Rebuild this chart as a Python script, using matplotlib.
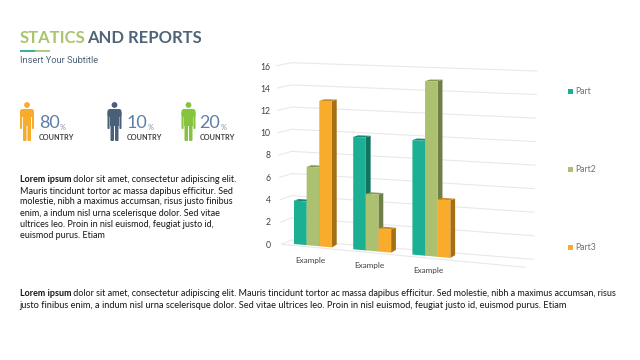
import matplotlib
matplotlib.use("Agg")
import matplotlib.pyplot as plt
from matplotlib.patches import Circle, FancyBboxPatch, Rectangle

# ---- data ----
categories = ["Example", "Example", "Example"]
series_names = ["Part", "Part2", "Part3"]
part1 = [3.9, 9.8, 9.7]
part2 = [7.0, 4.9, 14.7]
part3 = [12.9, 2.0, 4.8]
y_ticks = [0, 2, 4, 6, 8, 10, 12, 14, 16]
stat_values = [80, 10, 20]
stat_labels = ["COUNTRY", "COUNTRY", "COUNTRY"]

W, H = 640, 360
TEAL, GREEN, ORANGE = "#1BB093", "#ABC16F", "#F9AB2C"
TEAL_S, GREEN_S, ORANGE_S = "#0F7360", "#6F7F48", "#A66F14"
TEAL_T, GREEN_T, ORANGE_T = "#128A74", "#87994F", "#CC8A1E"
TXT = "#151515"
FONT = "Lato"

plt.rcParams["font.family"] = [FONT, "DejaVu Sans"]
fig = plt.figure(figsize=(6.4, 3.6), dpi=100, facecolor="white")

# overlay in pixel coordinates
pg = fig.add_axes([0, 0, 1, 1])
pg.set_xlim(0, W)
pg.set_ylim(H, 0)
pg.axis("off")

# chart axes: x in category units, y in value units
PX0, PX_STEP, PX_PER_V = 294.0, 59.2, 11.125
A_L, A_R, A_T, A_B = 272, 540, 66, 244
ax = fig.add_axes([A_L / W, 1 - A_B / H, (A_R - A_L) / W, (A_B - A_T) / H])
ax.patch.set_alpha(0)
ax.set_xlim((A_L - PX0) / PX_STEP, (A_R - PX0) / PX_STEP)
ax.set_ylim(0, 16)
ax.set_yticks(y_ticks)
ax.set_xticks([])
ax.tick_params(axis="y", length=0, pad=1, labelsize=6.2, labelcolor="#404040")
for s in ax.spines.values():
    s.set_visible(False)


def base(x):
    return -0.475 * x


def proj(x, v):
    return base(x) + v * (1 + 0.0304 * x)


# gridlines (left wall then back wall), and the floor front edge
GRID = "#E8E8E8"
for t in y_ticks:
    fr = t / 16
    yl = 244.3 - fr * (244.3 - 65.7)
    ybk = 240 - fr * (240 - 62.7)
    yr = 259.3 - fr * (259.3 - 71)
    xr = 533.3 + fr * 3.4
    pg.plot([281.7 - 5 * fr, 291.7, xr], [yl, ybk, yr], color=GRID, lw=0.8, zorder=1)
pg.plot([281.7, 525], [244.3, 267.3], color=GRID, lw=0.8, zorder=1)

# bars
BW = 0.2135
DX, DY_TOP = 4.8 / PX_STEP, 1.6 / PX_PER_V
DY_BOT = 2.8 / PX_PER_V
series = [(part1, TEAL, TEAL_S, TEAL_T), (part2, GREEN, GREEN_S, GREEN_T), (part3, ORANGE, ORANGE_S, ORANGE_T)]
for g in range(len(categories)):
    for i, (vals, c, cs, ct) in enumerate(series):
        v = vals[g]
        x0 = g + i * BW
        x1 = x0 + BW
        b0, b1, t0, t1 = base(x0), base(x1), proj(x0, v), proj(x1, v)
        ax.fill([x1, x1 + DX, x1 + DX, x1], [b1, b1 + DY_BOT, t1 + DY_TOP, t1], color=cs, lw=0, clip_on=False, zorder=3 + i)
        ax.fill([x0, x0 + DX, x1 + DX, x1], [t0, t0 + DY_TOP, t1 + DY_TOP, t1], color=ct, lw=0, clip_on=False, zorder=3 + i)
        ax.fill([x0, x1, x1, x0], [b0, b1, t1, t0], color=c, lw=0, clip_on=False, zorder=3 + i)
    xc = g + 1.5 * BW - 3 / PX_STEP
    ax.text(xc, base(xc) - 15 / PX_PER_V, categories[g], ha="center", va="center", fontsize=5.9,
            color="#404040", clip_on=False)

# legend
for name, c, y in zip(series_names, [TEAL, GREEN, ORANGE], [91, 169, 247]):
    pg.add_patch(Rectangle((568, y - 2.2), 4.8, 4.8, color=c, lw=0))
    pg.text(575, y, name, va="center", ha="left", fontsize=6.2, color="#707070")

# title
pg.text(20, 38, "STATICS", fontsize=12, color="#A9C46C", fontweight="bold", va="center", ha="left")
pg.text(87.5, 38, "AND REPORTS", fontsize=12, color="#4F6478", fontweight="bold", va="center", ha="left")
pg.plot([20, 35], [50.5, 50.5], color="#1BB093", lw=1.3, solid_capstyle="butt")
pg.plot([35, 50], [50.5, 50.5], color="#A9C46C", lw=1.3, solid_capstyle="butt")
pg.text(19.5, 60.5, "Insert Your Subtitle", fontsize=6.7, color="#4F6478", va="center", ha="left", family="Roboto")


# icons + stats
def person(cx, col):
    pg.add_patch(Circle((cx, 105), 2.9, color=col, lw=0))
    pg.add_patch(FancyBboxPatch((cx - 7, 109), 14, 8, boxstyle="round,pad=0,rounding_size=2.5", color=col, lw=0))
    pg.add_patch(Rectangle((cx - 4.2, 112), 8.4, 14, color=col, lw=0))
    pg.add_patch(FancyBboxPatch((cx - 7, 112), 2.1, 17, boxstyle="round,pad=0,rounding_size=0.9", color=col, lw=0))
    pg.add_patch(FancyBboxPatch((cx + 4.9, 112), 2.1, 17, boxstyle="round,pad=0,rounding_size=0.9", color=col, lw=0))
    pg.add_patch(FancyBboxPatch((cx - 4.0, 124), 3.5, 17, boxstyle="round,pad=0,rounding_size=1", color=col, lw=0))
    pg.add_patch(FancyBboxPatch((cx + 0.5, 124), 3.5, 17, boxstyle="round,pad=0,rounding_size=1", color=col, lw=0))


icon_x = [27, 114.5, 188.5]
icon_c = ["#F9AB2C", "#4A6079", "#86C440"]
num_x = [39, 127, 199.5]
for cx, col, nx, val, lab in zip(icon_x, icon_c, num_x, stat_values, stat_labels):
    person(cx, col)
    pg.text(nx, 123, str(val), fontsize=13, color="#5F7FA6", va="center", ha="left")
    pg.text(nx + 21, 127, "%", fontsize=5.2, color="#7C90A9", va="center", ha="left")
    pg.text(nx, 137, lab, fontsize=5.2, color="#404040", fontweight="bold", va="center", ha="left")

# body text
left_lines = [
    [("Lorem ipsum", True), (" dolor sit amet, consectetur adipiscing elit.", False)],
    [("Mauris tincidunt tortor ac massa dapibus efficitur. Sed", False)],
    [("molestie, nibh a maximus accumsan, risus justo finibus", False)],
    [("enim, a indum nisl urna scelerisque dolor. Sed vitae", False)],
    [("ultrices leo. Proin in nisl euismod, feugiat justo id,", False)],
    [("euismod purus. Etiam", False)],
]
bottom_lines = [
    [("Lorem ipsum", True), (" dolor sit amet, consectetur adipiscing elit. Mauris tincidunt tortor ac massa dapibus efficitur. Sed molestie, nibh a maximus accumsan, risus", False)],
    [("justo finibus enim, a indum nisl urna scelerisque dolor. Sed vitae ultrices leo. Proin in nisl euismod, feugiat justo id, euismod purus. Etiam", False)],
]
renderer = fig.canvas.get_renderer()


def put(lines, x, ys, sizes):
    for parts, y, size in zip(lines, ys, sizes):
        cur = x
        for s, bold in parts:
            t = pg.text(cur, y, s, fontsize=size, color=TXT, va="center", ha="left",
                        fontweight="bold" if bold else "normal")
            cur = t.get_window_extent(renderer).x1


put(left_lines, 19.5, [179.5, 191, 202, 213.5, 224.5, 236], [6.45] * 6)
put(bottom_lines, 19.5, [294, 305], [6.45, 6.7])

fig.savefig("out.png", dpi=100, facecolor="white")
